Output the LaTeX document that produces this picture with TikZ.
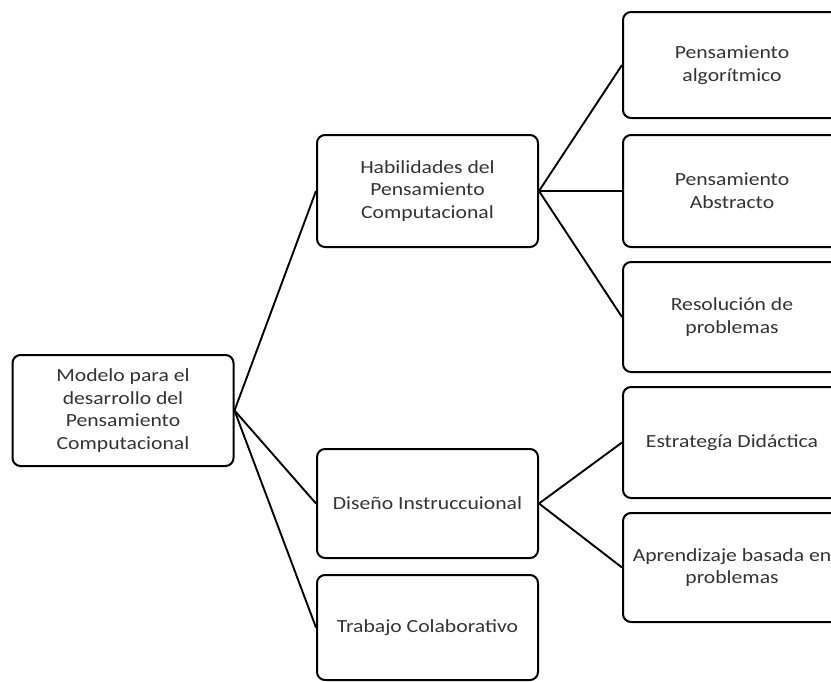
\documentclass[tikz,border=0pt]{standalone}
\usepackage{fontspec}
\setmainfont{Carlito}[FakeStretch=1.17]
\begin{document}
\begin{tikzpicture}[x=1pt,y=-1pt,
  box/.style={draw=black, line width=2pt, rounded corners=8pt, minimum width=221pt, minimum height=111pt, align=center, inner sep=0pt, text=black!80, font=\fontsize{18.5}{22.7}\selectfont},
  rbox/.style={box, minimum width=218pt},
  link/.style={draw=black, line width=1.9pt}]
\useasboundingbox (0,0) rectangle (831,681);
\clip (0,0) rectangle (831,681);
\node[box] (root) at (123,410.5) {Modelo para el\\desarrollo del\\Pensamiento\\Computacional};
\node[box, minimum height=112pt] (hab) at (427.5,191) {Habilidades del\\Pensamiento\\Computacional};
\node[box, minimum height=109pt] (dis) at (427.5,503.5) {Dise\~no Instruccuional};
\node[box, minimum height=105pt] (tra) at (427.5,627.5) {Trabajo Colaborativo};
\node[rbox, minimum height=106pt] (alg) at (732,65) {Pensamiento\\algor\'itmico};
\node[rbox, minimum height=112pt] (abs) at (732,191) {Pensamiento\\Abstracto};
\node[rbox, minimum height=110pt] (res) at (732,317) {Resoluci\'on de\\problemas};
\node[rbox, minimum height=111pt] (est) at (732,442.5) {Estrateg\'ia Did\'actica};
\node[rbox, minimum height=109pt] (apr) at (732,567.5) {Aprendizaje basada en\\problemas};
\draw[link] (root.east) -- (hab.west);
\draw[link] (root.east) -- (dis.west);
\draw[link] (root.east) -- (tra.west);
\draw[link] (hab.east) -- (alg.west);
\draw[link] (hab.east) -- (abs.west);
\draw[link] (hab.east) -- (res.west);
\draw[link] (dis.east) -- (est.west);
\draw[link] (dis.east) -- (apr.west);
\end{tikzpicture}
\end{document}
